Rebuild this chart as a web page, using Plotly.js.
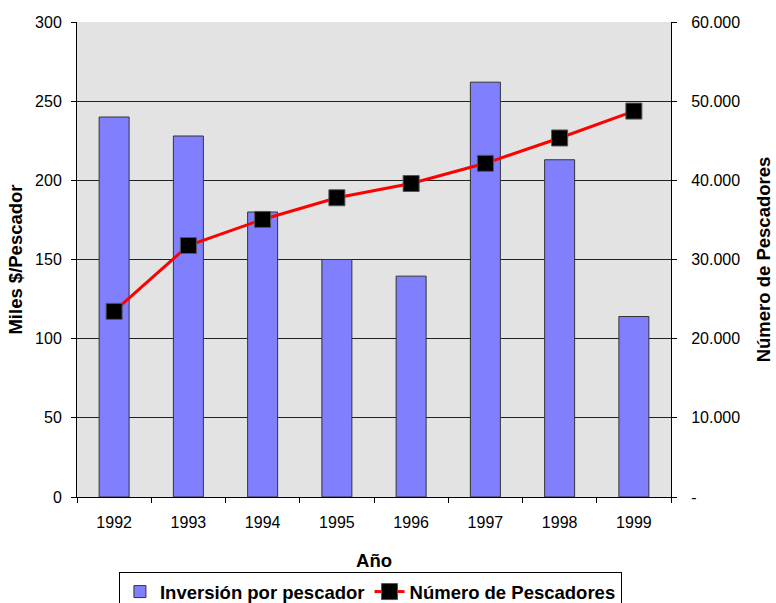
<!DOCTYPE html>
<html>
<head>
<meta charset="utf-8">
<script src="https://cdn.plot.ly/plotly-3.0.1.min.js"></script>
<style>html,body{margin:0;padding:0;background:#fff;}#chart{width:776px;height:603px;}</style>
</head>
<body>
<div id="chart"></div>
<script>
const years = ['1992','1993','1994','1995','1996','1997','1998','1999'];
const inversion = [240, 228, 180, 150, 139.5, 262, 213, 114];
const pescadores = [23450, 31770, 35060, 37800, 39600, 42150, 45350, 48750];
const leftTicks = [0, 50, 100, 150, 200, 250, 300];
const rightTickVals = [0, 10000, 20000, 30000, 40000, 50000, 60000];
const rightTickText = ['-', '10.000', '20.000', '30.000', '40.000', '50.000', '60.000'];

const font = 'Liberation Sans, Arial, sans-serif';

const data = [
  {
    type: 'bar', x: years, y: inversion, name: 'Inversión por pescador',
    marker: {color: '#8080ff', line: {color: '#333333', width: 1}},
    yaxis: 'y'
  },
  {
    type: 'scatter', mode: 'lines+markers', x: years, y: pescadores, name: 'Número de Pescadores',
    line: {color: '#ff0000', width: 3},
    marker: {symbol: 'square', size: 16, color: '#000000', line: {color: '#555555', width: 1}},
    yaxis: 'y2'
  }
];

const layout = {
  width: 776, height: 603,
  margin: {l: 77, r: 105, t: 22, b: 106, autoexpand: false},
  paper_bgcolor: '#ffffff',
  plot_bgcolor: '#e3e3e3',
  font: {family: font, size: 16, color: '#000'},
  showlegend: true,
  bargap: 0.596,
  xaxis: {
    type: 'category', range: [-0.5, 7.5],
    ticks: 'outside', tickson: 'boundaries', ticklen: 5, tickcolor: '#000',
    ticklabelstandoff: 11,
    showline: true, linecolor: '#000', linewidth: 1,
    showgrid: false, zeroline: false,
    tickfont: {family: font, size: 16},
    title: {text: 'Año', font: {family: font, size: 18.5, weight: 'bold'}, standoff: 23}
  },
  yaxis: {
    range: [0, 300], tickvals: leftTicks,
    ticks: 'outside', ticklen: 5, tickcolor: '#000',
    ticklabelstandoff: 6,
    showline: true, linecolor: '#000', linewidth: 1,
    showgrid: true, gridcolor: '#222', gridwidth: 1, zeroline: false,
    tickfont: {family: font, size: 16},
    title: {text: 'Miles $/Pescador', font: {family: font, size: 18.5, weight: 'bold'}, standoff: 7}
  },
  yaxis2: {
    overlaying: 'y', side: 'right',
    range: [0, 60000], tickvals: rightTickVals, ticktext: rightTickText,
    ticks: 'outside', ticklen: 5, tickcolor: '#000',
    ticklabelstandoff: 11,
    showline: true, linecolor: '#000', linewidth: 1,
    showgrid: false, zeroline: false,
    tickfont: {family: font, size: 16},
    title: {text: 'Número de Pescadores', font: {family: font, size: 18.5, weight: 'bold'}, standoff: 17}
  },
  legend: {
    orientation: 'h', x: 0.494, xanchor: 'center', y: -0.158, yanchor: 'top',
    bordercolor: '#000', borderwidth: 1, bgcolor: '#fff',
    font: {family: font, size: 18.5, weight: 'bold'},
    itemwidth: 30, tracegroupgap: 0
  }
};

Plotly.newPlot('chart', data, layout, {displayModeBar: false, staticPlot: true});
</script>
</body>
</html>
